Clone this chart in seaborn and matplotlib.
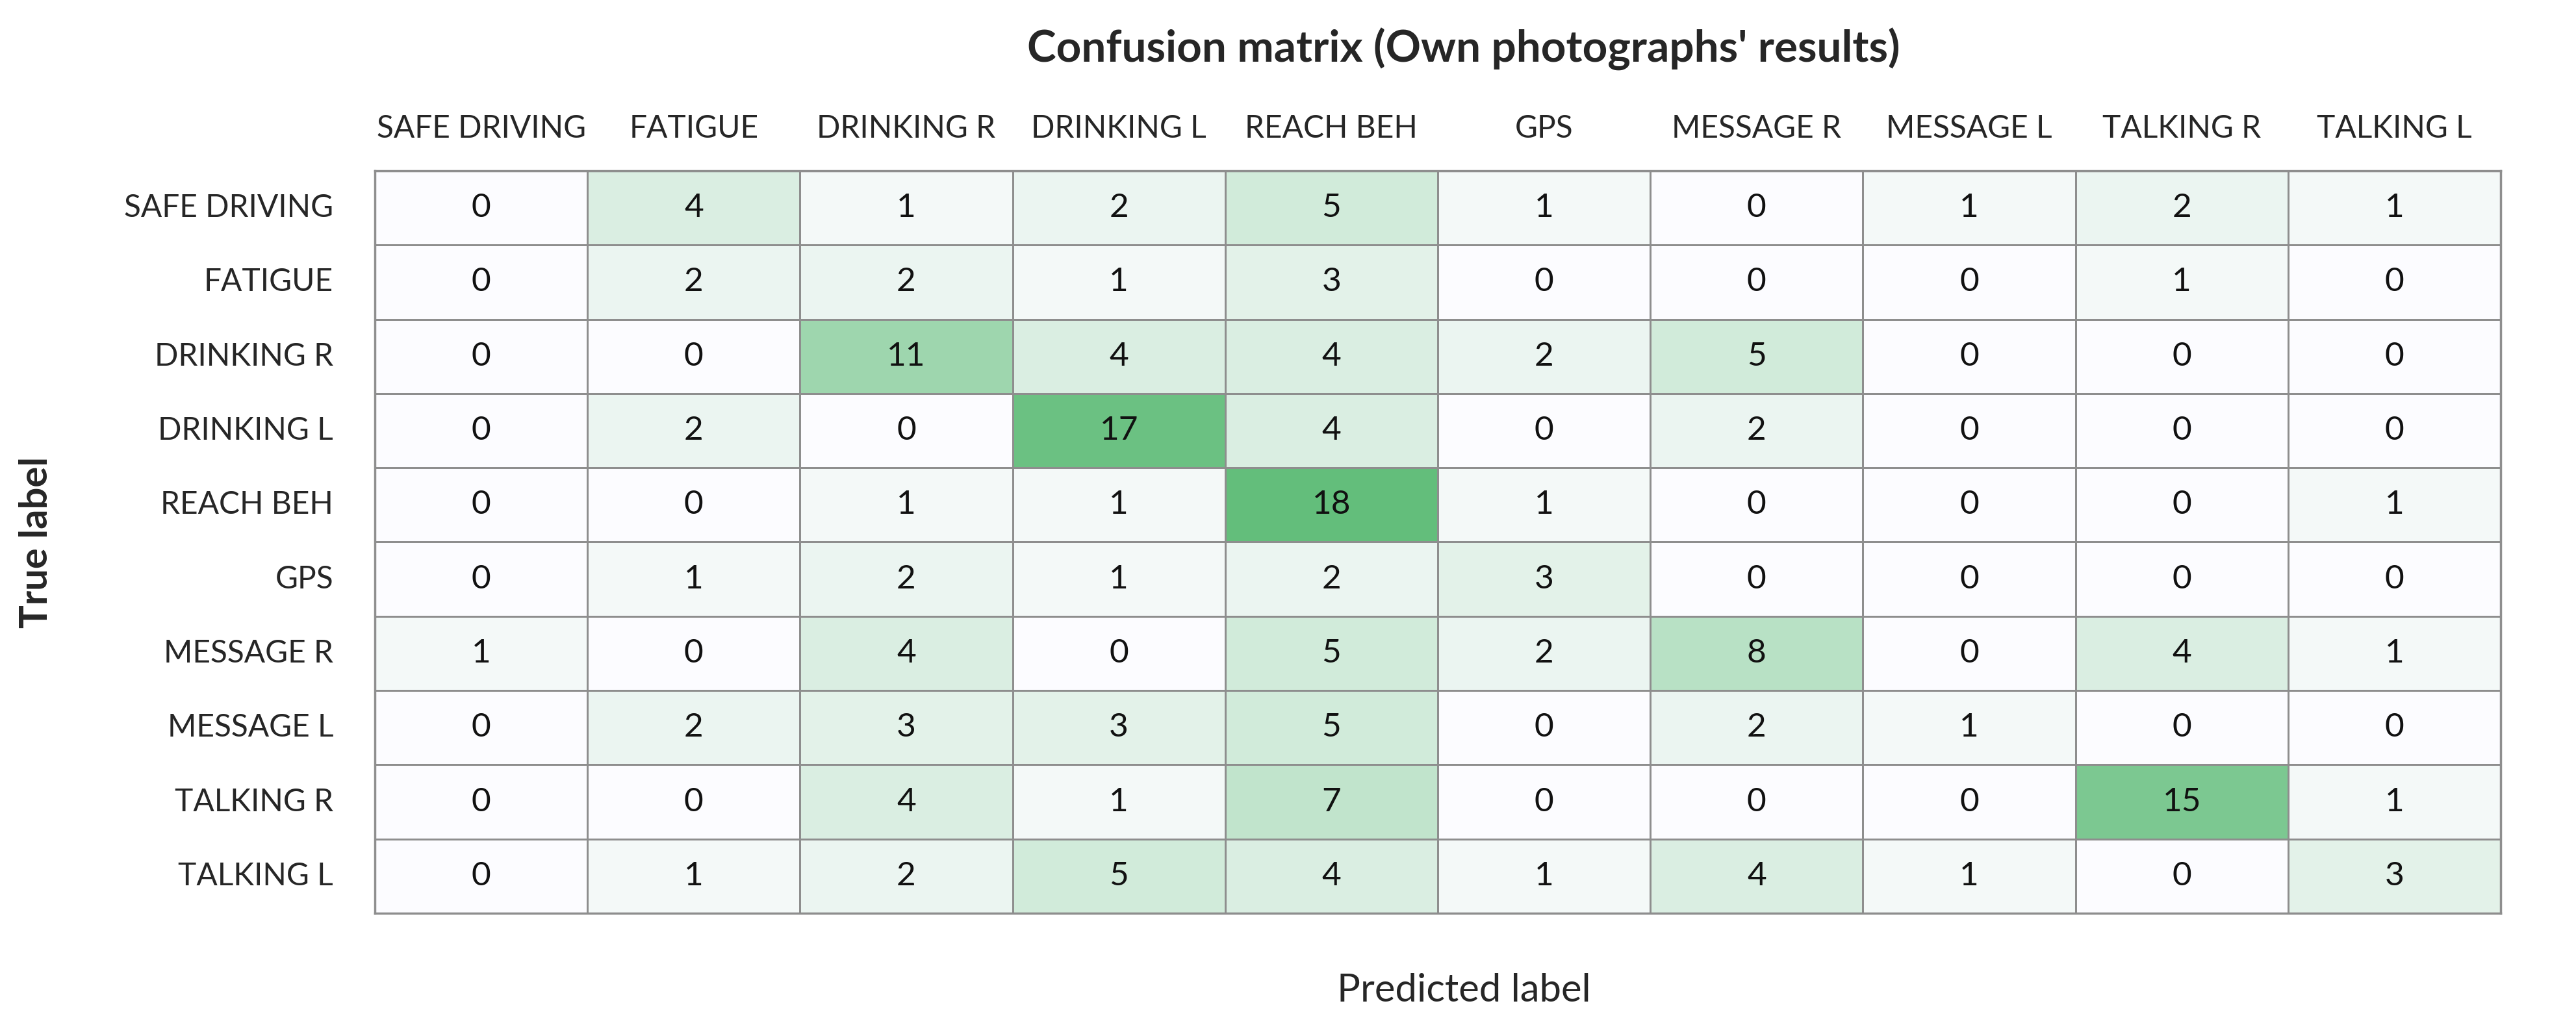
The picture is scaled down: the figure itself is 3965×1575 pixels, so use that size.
"""Confusion matrix heatmap for the own-photographs evaluation."""

import matplotlib.pyplot as plt
import numpy as np
import pandas as pd
import seaborn as sns
from matplotlib.colors import LinearSegmentedColormap


CLASSES = [
    "SAFE DRIVING", "FATIGUE", "DRINKING R", "DRINKING L", "REACH BEH",
    "GPS", "MESSAGE R", "MESSAGE L", "TALKING R", "TALKING L",
]

# rows = true label, columns = predicted label
SAFE_DRIVING = [0, 4, 1, 2, 5, 1, 0, 1, 2, 1]
FATIGUE = [0, 2, 2, 1, 3, 0, 0, 0, 1, 0]
DRINKING_R = [0, 0, 11, 4, 4, 2, 5, 0, 0, 0]
DRINKING_L = [0, 2, 0, 17, 4, 0, 2, 0, 0, 0]
REACH_BEH = [0, 0, 1, 1, 18, 1, 0, 0, 0, 1]
GPS = [0, 1, 2, 1, 2, 3, 0, 0, 0, 0]
MESSAGE_R = [1, 0, 4, 0, 5, 2, 8, 0, 4, 1]
MESSAGE_L = [0, 2, 3, 3, 5, 0, 2, 1, 0, 0]
TALKING_R = [0, 0, 4, 1, 7, 0, 0, 0, 15, 1]
TALKING_L = [0, 1, 2, 5, 4, 1, 4, 1, 0, 3]

W, H = 3966, 1575


def main():
    sns.set_theme(style="white")
    plt.rcParams["font.family"] = ["Lato", "DejaVu Sans"]

    matrix = pd.DataFrame(
        np.array([
            SAFE_DRIVING, FATIGUE, DRINKING_R, DRINKING_L, REACH_BEH,
            GPS, MESSAGE_R, MESSAGE_L, TALKING_R, TALKING_L,
        ]),
        index=CLASSES,
        columns=CLASSES,
    )
    cmap = LinearSegmentedColormap.from_list("excel_green", ["#FCFCFF", "#63BE7B"])

    fig = plt.figure(figsize=(W / 100, H / 100), dpi=100)
    left, right, top, bottom = 577, 3849, 263, 1406
    ax = fig.add_axes([left / W, 1 - bottom / H, (right - left) / W, (bottom - top) / H])

    sns.heatmap(
        matrix,
        ax=ax,
        cmap=cmap,
        vmin=0,
        vmax=matrix.values.max(),
        annot=True,
        fmt="d",
        annot_kws={"fontsize": 37, "color": "#111111"},
        cbar=False,
        linewidths=2,
        linecolor="#8E8E8E",
    )
    for side in ax.spines.values():
        side.set_visible(True)
        side.set_color("#8E8E8E")
        side.set_linewidth(2.5)

    ax.xaxis.tick_top()
    ax.tick_params(axis="x", length=0, pad=31, labelsize=34.5)
    ax.tick_params(axis="y", length=0, pad=46, labelsize=34.5)
    ax.set_xticklabels(CLASSES, rotation=0)
    ax.set_yticklabels(CLASSES, rotation=0, ha="right")
    ax.set_xlabel("")
    ax.set_ylabel("")

    fig.text(2253 / W, 1 - 76 / H, "Confusion matrix (Own photographs' results)",
             ha="center", va="center", fontsize=48.5, fontweight="bold")
    fig.text(2253 / W, 1 - 1525 / H, "Predicted label",
             ha="center", va="center", fontsize=43)
    fig.text(56 / W, 1 - 835 / H, "True label", rotation=90,
             ha="center", va="center", fontsize=43, fontweight="bold")

    fig.savefig("out.png", dpi=100)
    plt.close(fig)


if __name__ == "__main__":
    main()
